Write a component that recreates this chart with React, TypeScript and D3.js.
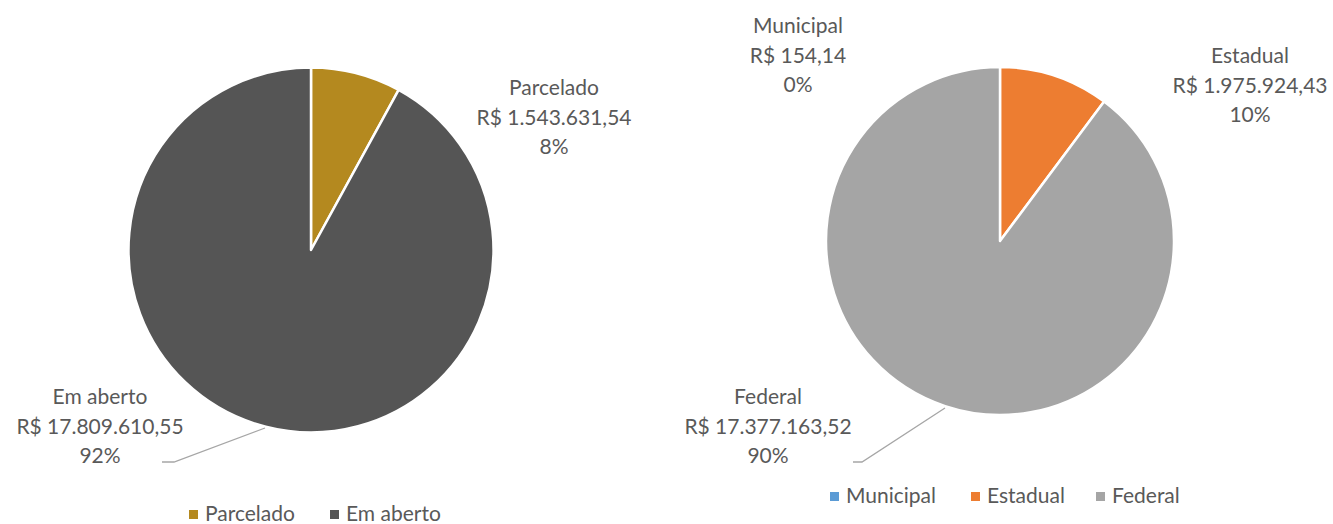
import React from "react";
import * as d3 from "d3";

const statusCategories = ["Parcelado", "Em aberto"];
const statusValues = [1543631.54, 17809610.55];
const statusLabels = ["R$ 1.543.631,54", "R$ 17.809.610,55"];
const statusPercents = ["8%", "92%"];
const statusColors = ["#B4891F", "#555555"];

const sphereCategories = ["Municipal", "Estadual", "Federal"];
const sphereValues = [154.14, 1975924.43, 17377163.52];
const sphereLabels = ["R$ 154,14", "R$ 1.975.924,43", "R$ 17.377.163,52"];
const spherePercents = ["0%", "10%", "90%"];
const sphereColors = ["#5B9BD5", "#ED7D31", "#A5A5A5"];

const FONT = "Lato, 'Open Sans', sans-serif";
const TEXT = "#595959";
const FS = 21;

type LabelPos = { x: number; y: number };

function Pie(props: {
  cx: number; cy: number; r: number;
  values: number[]; colors: string[];
  cats: string[]; amounts: string[]; pcts: string[];
  labels: LabelPos[];
  leaders: ([number, number][] | null)[];
}) {
  const pie = d3.pie<number>().sort(null).value((d) => d);
  const arcs = pie(props.values);
  const arcGen = d3.arc<d3.PieArcDatum<number>>().innerRadius(0).outerRadius(props.r);
  const line = d3.line();
  return (
    <g>
      <g transform={`translate(${props.cx},${props.cy})`}>
        {arcs.map((a, i) => (
          <path key={i} d={arcGen(a) || ""} fill={props.colors[i]} stroke="#fff" strokeWidth={2.5} strokeLinejoin="round" />
        ))}
      </g>
      {props.leaders.map((l, i) =>
        l ? <path key={"l" + i} d={line(l) || ""} fill="none" stroke="#A6A6A6" strokeWidth={1.3} /> : null
      )}
      {props.labels.map((p, i) => (
        <text key={"t" + i} x={p.x} y={p.y} textAnchor="middle" fill={TEXT} fontFamily={FONT} fontSize={FS}>
          <tspan x={p.x} dy={0}>{props.cats[i]}</tspan>
          <tspan x={p.x} dy={29.5}>{props.amounts[i]}</tspan>
          <tspan x={p.x} dy={29.5}>{props.pcts[i]}</tspan>
        </text>
      ))}
    </g>
  );
}

function Legend(props: { x: number; y: number; cats: string[]; colors: string[]; gaps: number[] }) {
  let x = props.x;
  return (
    <g>
      {props.cats.map((c, i) => {
        const gx = x;
        x += props.gaps[i];
        return (
          <g key={c}>
            <rect x={gx} y={props.y - 11} width={9} height={9} fill={props.colors[i]} />
            <text x={gx + 16} y={props.y} fill={TEXT} fontFamily={FONT} fontSize={FS}>{c}</text>
          </g>
        );
      })}
    </g>
  );
}

export default function App() {
  return (
    <svg width={1333} height={524} style={{ position: "absolute", left: 0, top: 0, background: "#fff" }}>
      <Pie
        cx={311} cy={250} r={182.5}
        values={statusValues} colors={statusColors}
        cats={statusCategories} amounts={statusLabels} pcts={statusPercents}
        labels={[{ x: 554, y: 95 }, { x: 100, y: 404 }]}
        leaders={[null, [[162, 462], [174, 462], [265, 428]]]}
      />
      <Legend x={189} y={521} cats={statusCategories} colors={statusColors} gaps={[141, 0]} />
      <Pie
        cx={1000} cy={241} r={174}
        values={sphereValues} colors={sphereColors}
        cats={sphereCategories} amounts={sphereLabels} pcts={spherePercents}
        labels={[{ x: 798, y: 33 }, { x: 1250, y: 63 }, { x: 768, y: 404 }]}
        leaders={[null, null, [[853, 462], [862, 462], [945, 408]]]}
      />
      <Legend x={830} y={503} cats={sphereCategories} colors={sphereColors} gaps={[141, 125, 0]} />
    </svg>
  );
}
